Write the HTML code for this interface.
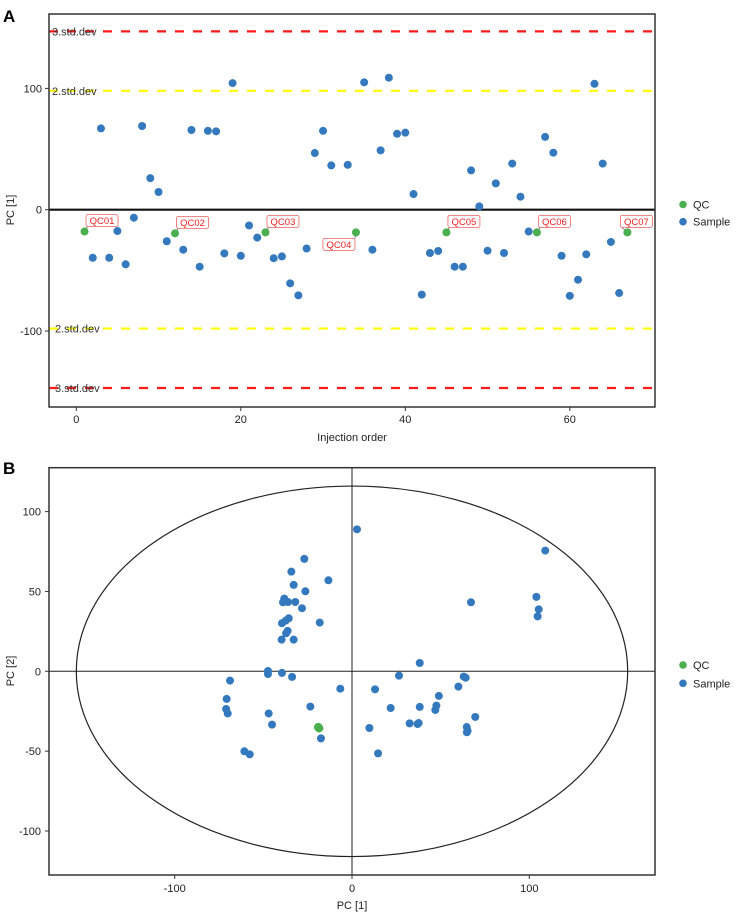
<!DOCTYPE html>
<html><head><meta charset="utf-8"><style>
html,body{margin:0;padding:0;background:#fff;}
svg{display:block;font-family:"Liberation Sans","DejaVu Sans",sans-serif;}
</style></head><body>
<svg id="chart" width="742" height="915" viewBox="0 0 742 915" xmlns="http://www.w3.org/2000/svg">
<text x="3" y="22" font-size="17" font-weight="bold">A</text>
<text x="3" y="474" font-size="17" font-weight="bold">B</text>
<g id="panelA"></g>
<g id="panelB"></g>
</svg>
<script>
// ---- Panel A data ----
const sampleOrder = [2,3,4,5,6,7,8,9,10,11,13,14,15,16,17,18,19,20,21,22,24,25,26,27,28,29,30,31,33,35,36,37,38,39,40,41,42,43,44,46,47,48,49,50,51,52,53,54,55,57,58,59,60,61,62,63,64,65,66];
const samplePC1 = [-39.6,67,-39.6,-17.6,-45,-6.6,69,26,14.6,-26,-33,65.7,-47,65,64.6,-36,104.4,-38,-13,-23,-40,-38.5,-60.7,-70.6,-32,46.7,65,36.5,37,105,-33,48.9,108.8,62.6,63.5,12.9,-70,-35.7,-34,-47,-47,32.4,2.7,-33.8,21.7,-35.7,38,10.7,-18,60,47,-38,-71,-57.7,-36.8,103.8,38,-26.6,-68.7];
const qcNames = ["QC01","QC02","QC03","QC04","QC05","QC06","QC07"];
const qcOrder = [1,12,23,34,45,56,67];
const qcPC1 = [-18,-19.5,-18.7,-18.7,-18.7,-18.7,-18.7];
const xTicksA = [0,20,40,60];
const yTicksA = [-100,0,100];
const stdLevels = [3,2,-2,-3];
const stdValues = [147,98,-98,-147];

// ---- Panel B data ----
const scorePC1 = [2.8,-26.9,-34.2,-13.3,-32.9,-26.3,-38.2,-38.9,-36.1,-32,-28.2,-35.7,-37.4,-39.5,-18.2,-36.3,-37.2,-39.7,-32.9,-47.4,-47.4,-39.5,-33.8,-68.8,-6.6,-70.7,-71,-70.1,-47,-45.1,-23.5,-17.5,-60.7,-57.7,9.8,109,67.1,104,105.3,104.7,38.2,26.5,63,64.1,13,60,49,21.8,38.2,47,47.6,32.5,37,37.6,64.7,65.2,64.8,69.5,14.7];
const scorePC2 = [88.9,70.4,62.4,57,54.1,50.1,45.5,43.2,43.4,43.4,39.5,33.2,31.7,30.1,30.5,25.3,23.8,19.8,19.8,0.2,-1.7,-1,-3.5,-5.8,-10.9,-17.3,-23.6,-26.4,-26.4,-33.4,-22.1,-42,-50.1,-52,-35.5,75.6,43.2,46.6,38.8,34.4,5.2,-2.7,-3.3,-4,-11.3,-9.6,-15.4,-23,-22.3,-24.2,-21.5,-32.6,-33,-32.4,-34.9,-37.2,-38.2,-28.6,-51.4];
const qcScorePC1 = [-19.2,-18.4,-18.8,-19,-18.6,-18.9,-18.7];
const qcScorePC2 = [-35.0,-35.6,-35.3,-34.8,-35.8,-35.2,-35.4];
const xTicksB = [-100,0,100];
const yTicksB = [-100,-50,0,50,100];
const ellipseRadii = [155.5,116];

const NS = "http://www.w3.org/2000/svg";
const BLUE = "#3479bd", GREEN = "#4bae4f";
function mk(parent, tag, attrs) {
  const e = document.createElementNS(NS, tag);
  for (const k in attrs) e.setAttribute(k, attrs[k]);
  parent.appendChild(e);
  return e;
}

// ===== Panel A =====
(function () {
  const g = document.getElementById('panelA');
  const L = 49, R = 655, T = 14, B = 407;
  const xA = v => 76.3 + v * 8.225;
  const yA = v => 209.7 - v * 1.213;
  for (let i = 0; i < stdValues.length; i++) {
    const y = yA(stdValues[i]);
    const red = Math.abs(stdLevels[i]) === 3;
    const ln = mk(g, 'line', {x1: L, x2: R, y1: y, y2: y, stroke: red ? '#ff1a1a' : '#ffff00', 'stroke-width': 2.2, 'stroke-dasharray': '9,9'});
    
    
    const t = mk(g, 'text', {x: stdLevels[i] < 0 ? 55 : 52, y: y + 4, 'font-size': 11, fill: '#333'});
    t.textContent = Math.abs(stdLevels[i]) + '.std.dev';
    
    
  }
  const z = mk(g, 'line', {x1: L, x2: R, y1: yA(0), y2: yA(0), stroke: '#111', 'stroke-width': 2.2});
  
  
  const fr = mk(g, 'rect', {x: L, y: T, width: R - L, height: B - T, fill: 'none', stroke: '#333', 'stroke-width': 1.5});
  
  
  xTicksA.forEach(v => {
    mk(g, 'line', {x1: xA(v), x2: xA(v), y1: B, y2: B + 4, stroke: '#333'});
    const t = mk(g, 'text', {x: xA(v), y: B + 16, 'font-size': 11, 'text-anchor': 'middle', fill: '#222'});
    t.textContent = v;
    
    
  });
  yTicksA.forEach(v => {
    mk(g, 'line', {x1: L - 4, x2: L, y1: yA(v), y2: yA(v), stroke: '#333'});
    const t = mk(g, 'text', {x: L - 7, y: yA(v) + 4, 'font-size': 11, 'text-anchor': 'end', fill: '#222'});
    t.textContent = v;
    
    
  });
  const xt = mk(g, 'text', {x: 352, y: 441, 'font-size': 11, 'text-anchor': 'middle', fill: '#222'});
  xt.textContent = 'Injection order';
  
  
  const yt = mk(g, 'text', {x: 0, y: 0, 'font-size': 11, 'text-anchor': 'middle', fill: '#222', transform: 'translate(14,210) rotate(-90)'});
  yt.textContent = 'PC [1]';
  
  
  sampleOrder.forEach((o, i) => {
    const c = mk(g, 'circle', {cx: xA(o), cy: yA(samplePC1[i]), r: 4, fill: BLUE});
    
    
  });
  qcOrder.forEach((o, i) => {
    const px = xA(o), py = yA(qcPC1[i]);
    let bx = px + 1.5, by = py - 17;
    if (qcNames[i] === 'QC04') { bx = px - 33; by = py + 6; }
    if (qcNames[i] === 'QC07') { bx = px - 7; by = py - 17; }
    mk(g, 'line', {x1: px, y1: py, x2: qcNames[i] === 'QC04' ? px - 1 : bx + 1.5, y2: qcNames[i] === 'QC04' ? by : by + 12, stroke: '#666', 'stroke-width': 0.8});
    const c = mk(g, 'circle', {cx: px, cy: py, r: 4, fill: GREEN});
    
    
    const bx0 = mk(g, 'rect', {x: bx, y: by, width: 32, height: 12, rx: 2, fill: '#fff', stroke: '#f06060', 'stroke-width': 0.8});
    
    
    const t = mk(g, 'text', {x: bx + 16, y: by + 9.5, 'font-size': 9.5, 'text-anchor': 'middle', fill: '#f02020'});
    t.textContent = qcNames[i];
    
    
  });
  [['QC', GREEN, 204.5], ['Sample', BLUE, 221.7]].forEach(d => {
    const c = mk(g, 'circle', {cx: 683, cy: d[2], r: 3.8, fill: d[1]});
    
    
    const t = mk(g, 'text', {x: 693, y: d[2] + 4, 'font-size': 11, fill: '#222'});
    t.textContent = d[0];
    
    
  });
})();

// ===== Panel B =====
(function () {
  const g = document.getElementById('panelB');
  const L = 49, R = 655, T = 467.7, B = 875;
  const xB = v => 352 + v * 1.773;
  const yB = v => 671.3 - v * 1.597;
  const h = mk(g, 'line', {x1: L, x2: R, y1: yB(0), y2: yB(0), stroke: '#222', 'stroke-width': 1});
  
  
  const v0 = mk(g, 'line', {x1: xB(0), x2: xB(0), y1: T, y2: B, stroke: '#222', 'stroke-width': 1});
  
  
  const el = mk(g, 'ellipse', {cx: xB(0), cy: yB(0), rx: ellipseRadii[0] * 1.773, ry: ellipseRadii[1] * 1.597, fill: 'none', stroke: '#222', 'stroke-width': 1.2});
  
  
  const fr = mk(g, 'rect', {x: L, y: T, width: R - L, height: B - T, fill: 'none', stroke: '#333', 'stroke-width': 1.5});
  
  
  xTicksB.forEach(v => {
    mk(g, 'line', {x1: xB(v), x2: xB(v), y1: B, y2: B + 4, stroke: '#333'});
    const t = mk(g, 'text', {x: xB(v), y: B + 17, 'font-size': 11, 'text-anchor': 'middle', fill: '#222'});
    t.textContent = v;
    
    
  });
  yTicksB.forEach(v => {
    mk(g, 'line', {x1: L - 4, x2: L, y1: yB(v), y2: yB(v), stroke: '#333'});
    const t = mk(g, 'text', {x: L - 8, y: yB(v) + 4, 'font-size': 11, 'text-anchor': 'end', fill: '#222'});
    t.textContent = v;
    
    
  });
  const xt = mk(g, 'text', {x: 352, y: 909, 'font-size': 11, 'text-anchor': 'middle', fill: '#222'});
  xt.textContent = 'PC [1]';
  
  
  const yt = mk(g, 'text', {x: 0, y: 0, 'font-size': 11, 'text-anchor': 'middle', fill: '#222', transform: 'translate(14,671) rotate(-90)'});
  yt.textContent = 'PC [2]';
  
  
  scorePC1.forEach((v, i) => {
    const c = mk(g, 'circle', {cx: xB(v), cy: yB(scorePC2[i]), r: 4, fill: BLUE});
    
    
  });
  qcScorePC1.forEach((v, i) => {
    const c = mk(g, 'circle', {cx: xB(v), cy: yB(qcScorePC2[i]), r: 4, fill: GREEN});
    
    
  });
  [['QC', GREEN, 665], ['Sample', BLUE, 683.3]].forEach(d => {
    const c = mk(g, 'circle', {cx: 683, cy: d[2], r: 3.8, fill: d[1]});
    
    
    const t = mk(g, 'text', {x: 693, y: d[2] + 4, 'font-size': 11, fill: '#222'});
    t.textContent = d[0];
    
    
  });
})();
</script>
</body></html>
